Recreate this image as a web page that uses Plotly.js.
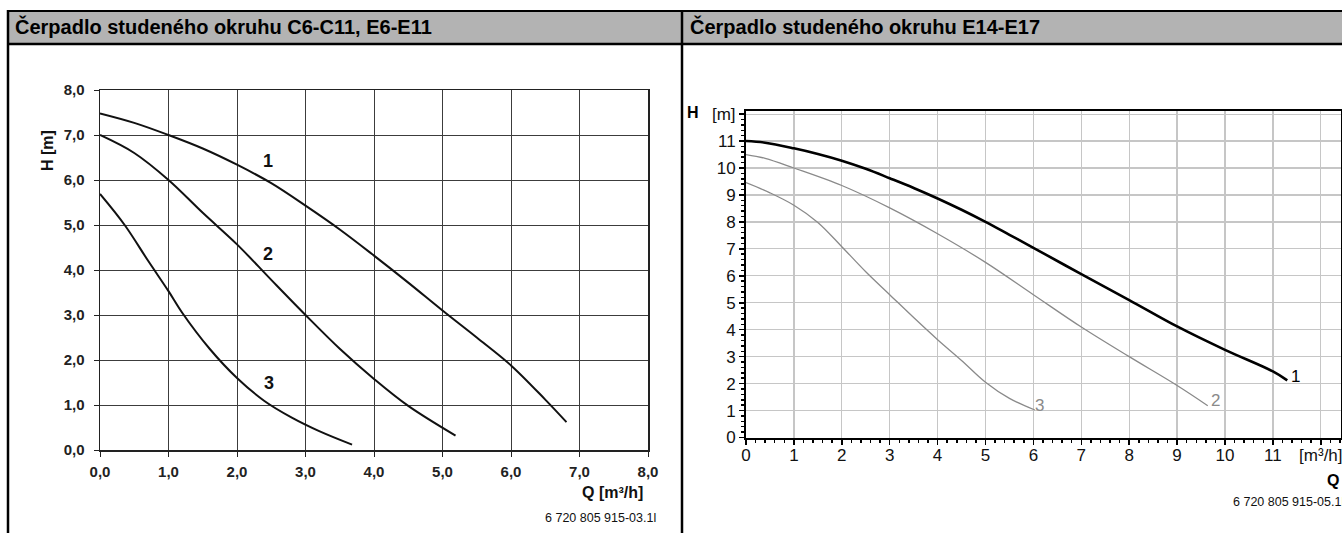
<!DOCTYPE html>
<html>
<head>
<meta charset="utf-8">
<script src="https://cdn.plot.ly/plotly-3.0.1.min.js"></script>
<style>
html,body{margin:0;padding:0;background:#fff;}
#chart{width:1342px;height:533px;}
</style>
</head>
<body>
<div id="chart"></div>
<script>
// ---------- Data: left chart (C6-C11, E6-E11) ----------
const leftQ1 = [0, 0.5, 1.0, 1.5, 2.0, 2.5, 3.0, 3.5, 4.0, 4.5, 5.0, 5.5, 6.0, 6.5, 6.81];
const leftH1 = [7.48, 7.27, 7.0, 6.7, 6.34, 5.93, 5.43, 4.9, 4.32, 3.72, 3.1, 2.5, 1.88, 1.12, 0.62];
const leftQ2 = [0, 0.5, 1.0, 1.5, 2.0, 2.5, 3.0, 3.5, 4.0, 4.5, 5.19];
const leftH2 = [7.0, 6.6, 6.0, 5.27, 4.57, 3.78, 3.0, 2.25, 1.58, 0.98, 0.32];
const leftQ3 = [0, 0.36, 0.7, 1.0, 1.2, 1.6, 2.0, 2.4, 2.8, 3.2, 3.68];
const leftH3 = [5.69, 5.0, 4.21, 3.53, 3.05, 2.25, 1.6, 1.09, 0.72, 0.42, 0.12];
const leftTickVals = [0, 1, 2, 3, 4, 5, 6, 7, 8];
const leftTickText = ['0,0', '1,0', '2,0', '3,0', '4,0', '5,0', '6,0', '7,0', '8,0'];
const leftCurveNames = ['1', '2', '3'];
const leftLabelQ = [2.45, 2.45, 2.46];
const leftLabelH = [6.42, 4.36, 1.49];

// ---------- Data: right chart (E14-E17) ----------
const rightQ1 = [0, 0.4, 1, 1.5, 2, 2.5, 3, 3.5, 4, 4.5, 5, 5.5, 6, 7, 8, 9, 10, 11, 11.3];
const rightH1 = [11.0, 10.94, 10.73, 10.52, 10.27, 9.97, 9.62, 9.26, 8.87, 8.45, 8.0, 7.52, 7.04, 6.06, 5.1, 4.12, 3.25, 2.45, 2.12];
const rightQ2 = [0, 0.4, 1, 2, 3, 4, 5, 6, 7, 8, 9, 9.64];
const rightH2 = [10.5, 10.36, 10.0, 9.35, 8.52, 7.56, 6.5, 5.3, 4.1, 3.0, 1.93, 1.18];
const rightQ3 = [0, 0.5, 1, 1.5, 2, 2.5, 3, 3.5, 4, 4.5, 5, 5.5, 6.03];
const rightH3 = [9.46, 9.08, 8.62, 7.98, 7.08, 6.15, 5.3, 4.45, 3.63, 2.86, 2.05, 1.45, 1.02];
const rightXTickVals = [0, 1, 2, 3, 4, 5, 6, 7, 8, 9, 10, 11, 12];
const rightXTickText = ['0', '1', '2', '3', '4', '5', '6', '7', '8', '9', '10', '11', '[m³/h]'];
const rightYTickVals = [0, 1, 2, 3, 4, 5, 6, 7, 8, 9, 10, 11, 12];
const rightYTickText = ['0', '1', '2', '3', '4', '5', '6', '7', '8', '9', '10', '11', '[m]'];
const rightCurveNames = ['1', '2', '3'];
const rightLabelQ = [11.33, 9.67, 5.99];
const rightLabelH = [2.25, 1.36, 1.2];

// ---------- Texts ----------
const headerLeft = 'Čerpadlo studeného okruhu C6-C11, E6-E11';
const headerRight = 'Čerpadlo studeného okruhu E14-E17';
const leftYTitle = 'H [m]';
const leftXTitle = 'Q [m³/h]';
const leftCode = '6 720 805 915-03.1l';
const rightYTitle = 'H';
const rightXTitle = 'Q';
const rightCode = '6 720 805 915-05.1l';

// ---------- Layout helpers (pixel -> paper) ----------
const W = 1342, Hh = 533;
const px = v => v / W;
const py = v => 1 - v / Hh;
const FONT = 'Liberation Sans, Arial, sans-serif';

const traces = [
  {x: leftQ1, y: leftH1, xaxis: 'x', yaxis: 'y', mode: 'lines', line: {color: '#111', width: 2, shape: 'spline', smoothing: 1}},
  {x: leftQ2, y: leftH2, xaxis: 'x', yaxis: 'y', mode: 'lines', line: {color: '#111', width: 2, shape: 'spline', smoothing: 1}},
  {x: leftQ3, y: leftH3, xaxis: 'x', yaxis: 'y', mode: 'lines', line: {color: '#111', width: 2, shape: 'spline', smoothing: 1}},
  {x: rightQ1, y: rightH1, xaxis: 'x2', yaxis: 'y2', mode: 'lines', line: {color: '#000', width: 2.6, shape: 'spline', smoothing: 1}},
  {x: rightQ2, y: rightH2, xaxis: 'x2', yaxis: 'y2', mode: 'lines', line: {color: '#8a8a8a', width: 1.3, shape: 'spline', smoothing: 1}},
  {x: rightQ3, y: rightH3, xaxis: 'x2', yaxis: 'y2', mode: 'lines', line: {color: '#8a8a8a', width: 1.3, shape: 'spline', smoothing: 1}}
];

const annotations = [
  {xref: 'paper', yref: 'paper', x: px(13), y: py(27), xanchor: 'left', yanchor: 'middle', text: headerLeft, showarrow: false,
   font: {family: FONT, size: 20, color: '#000', weight: 'bold'}},
  {xref: 'paper', yref: 'paper', x: px(688), y: py(27), xanchor: 'left', yanchor: 'middle', text: headerRight, showarrow: false,
   font: {family: FONT, size: 20, color: '#000', weight: 'bold'}},
  {xref: 'paper', yref: 'paper', x: px(47), y: py(151), xanchor: 'center', yanchor: 'middle', textangle: -90, text: leftYTitle, showarrow: false,
   font: {family: FONT, size: 16, color: '#111', weight: 'bold'}},
  {xref: 'paper', yref: 'paper', x: px(645), y: py(492), xanchor: 'right', yanchor: 'middle', text: leftXTitle, showarrow: false,
   font: {family: FONT, size: 16, color: '#111', weight: 'bold'}},
  {xref: 'paper', yref: 'paper', x: px(658), y: py(518), xanchor: 'right', yanchor: 'middle', text: leftCode, showarrow: false,
   font: {family: FONT, size: 12.5, color: '#111'}},
  {xref: 'paper', yref: 'paper', x: px(685), y: py(112), xanchor: 'left', yanchor: 'middle', text: rightYTitle, showarrow: false,
   font: {family: FONT, size: 16, color: '#000', weight: 'bold'}},
  {xref: 'paper', yref: 'paper', x: px(1325), y: py(480), xanchor: 'left', yanchor: 'middle', text: rightXTitle, showarrow: false,
   font: {family: FONT, size: 16, color: '#000', weight: 'bold'}},
  {xref: 'paper', yref: 'paper', x: px(1231), y: py(502), xanchor: 'left', yanchor: 'middle', text: rightCode, showarrow: false,
   font: {family: FONT, size: 12.5, color: '#111'}}
];
leftCurveNames.forEach((t, i) => annotations.push({
  xref: 'x', yref: 'y', x: leftLabelQ[i], y: leftLabelH[i], text: t, showarrow: false, xanchor: 'center', yanchor: 'middle',
  font: {family: FONT, size: 18, color: '#111', weight: 'bold'}
}));
rightCurveNames.forEach((t, i) => annotations.push({
  xref: 'x2', yref: 'y2', x: rightLabelQ[i], y: rightLabelH[i], text: t, showarrow: false, xanchor: 'left', yanchor: 'middle',
  font: {family: FONT, size: 17, color: i === 0 ? '#000' : '#8a8a8a'}
}));

const shapes = [
  {type: 'rect', xref: 'paper', yref: 'paper', x0: px(8), x1: 1, y0: py(43), y1: py(11), fillcolor: '#b3b3b3', line: {width: 0}, layer: 'below'},
  {type: 'line', xref: 'paper', yref: 'paper', x0: px(7), x1: 1, y0: py(11), y1: py(11), line: {color: '#000', width: 2}},
  {type: 'line', xref: 'paper', yref: 'paper', x0: px(7), x1: 1, y0: py(44), y1: py(44), line: {color: '#000', width: 2.5}},
  {type: 'line', xref: 'paper', yref: 'paper', x0: px(8), x1: px(8), y0: py(10), y1: 0, line: {color: '#000', width: 2.5}},
  {type: 'line', xref: 'paper', yref: 'paper', x0: px(682), x1: px(682), y0: py(10), y1: 0, line: {color: '#000', width: 2.5}}
];

const layout = {
  width: W, height: Hh,
  margin: {l: 0, r: 0, t: 0, b: 0, pad: 0},
  paper_bgcolor: '#fff', plot_bgcolor: 'rgba(0,0,0,0)',
  showlegend: false, hovermode: false,
  font: {family: FONT, color: '#111'},
  xaxis: {
    domain: [px(100), px(648)], range: [0, 8], anchor: 'y',
    tickmode: 'array', tickvals: leftTickVals, ticktext: leftTickText,
    ticks: 'outside', ticklen: 5, tickwidth: 1, tickcolor: '#222', ticklabelstandoff: 2,
    showgrid: true, gridcolor: '#3c3c3c', gridwidth: 1, zeroline: false,
    showline: true, linecolor: '#222', linewidth: 1.5, mirror: true,
    tickfont: {family: FONT, size: 15, color: '#222', weight: 'bold'}
  },
  yaxis: {
    domain: [py(450), py(90)], range: [0, 8], anchor: 'x',
    tickmode: 'array', tickvals: leftTickVals, ticktext: leftTickText,
    ticks: 'outside', ticklen: 5, tickwidth: 1, tickcolor: '#222', ticklabelstandoff: 6,
    showgrid: true, gridcolor: '#3c3c3c', gridwidth: 1, zeroline: false,
    showline: true, linecolor: '#222', linewidth: 1.5, mirror: true,
    tickfont: {family: FONT, size: 15, color: '#222', weight: 'bold'}
  },
  xaxis2: {
    domain: [px(746), px(1341)], range: [0, (1341 - 746) / 47.9], anchor: 'y2',
    tickmode: 'array', tickvals: rightXTickVals, ticktext: rightXTickText,
    ticks: 'outside', ticklen: 5, tickwidth: 1.5, tickcolor: '#000', ticklabelstandoff: -4,
    ticklabeloverflow: 'allow',
    minor: {tickmode: 'linear', tick0: 0, dtick: 0.2, ticks: 'outside', ticklen: 3.5, tickwidth: 1.5, tickcolor: '#000', showgrid: false},
    showgrid: true, gridcolor: '#c6c6c6', gridwidth: 1.2, zeroline: false,
    showline: true, linecolor: '#000', linewidth: 2, mirror: true,
    tickfont: {family: FONT, size: 17, color: '#111'}
  },
  yaxis2: {
    domain: [py(437.5), py(111)], range: [0, (437.5 - 111) / 26.95], anchor: 'x2',
    tickmode: 'array', tickvals: rightYTickVals, ticktext: rightYTickText,
    ticks: 'outside', ticklen: 5, tickwidth: 1.5, tickcolor: '#000', ticklabelstandoff: 0,
    ticklabeloverflow: 'allow',
    minor: {tickmode: 'linear', tick0: 0, dtick: 0.2, ticks: 'outside', ticklen: 3.5, tickwidth: 1.5, tickcolor: '#000', showgrid: false},
    showgrid: true, gridcolor: '#c6c6c6', gridwidth: 1.2, zeroline: false,
    showline: true, linecolor: '#000', linewidth: 2, mirror: true,
    tickfont: {family: FONT, size: 17, color: '#111'}
  },
  annotations: annotations,
  shapes: shapes
};

Plotly.newPlot('chart', traces, layout, {staticPlot: true, displayModeBar: false});
</script>
</body>
</html>
